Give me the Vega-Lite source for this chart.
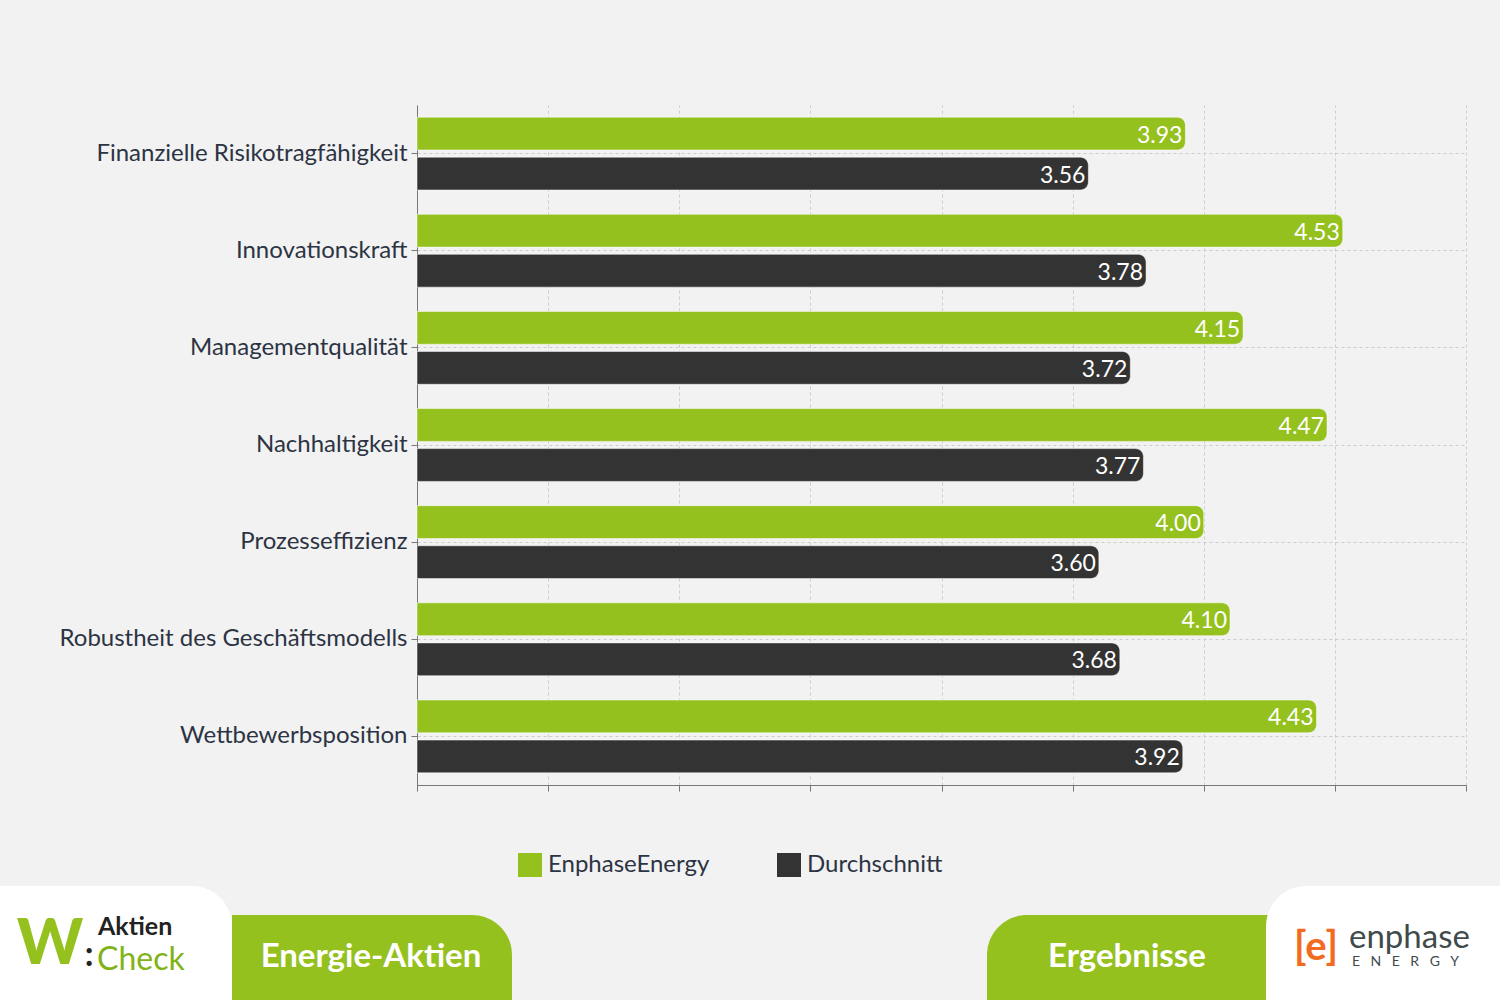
{
  "$schema": "https://vega.github.io/schema/vega-lite/v6.json",
  "background": "#f2f2f2",
  "padding": {"top": 105, "left": 0, "right": 0, "bottom": 0},
  "spacing": 9,
  "align": "none",
  "resolve": {"scale": {"x": "independent", "y": "independent", "color": "independent"}},
  "config": {"view": {"stroke": null}, "font": "Lato"},
  "datasets": {
    "balken": [
      {"kriterium": "Finanzielle Risikotragfähigkeit", "serie": "EnphaseEnergy", "wert": 3.93},
      {"kriterium": "Finanzielle Risikotragfähigkeit", "serie": "Durchschnitt", "wert": 3.56},
      {"kriterium": "Innovationskraft", "serie": "EnphaseEnergy", "wert": 4.53},
      {"kriterium": "Innovationskraft", "serie": "Durchschnitt", "wert": 3.78},
      {"kriterium": "Managementqualität", "serie": "EnphaseEnergy", "wert": 4.15},
      {"kriterium": "Managementqualität", "serie": "Durchschnitt", "wert": 3.72},
      {"kriterium": "Nachhaltigkeit", "serie": "EnphaseEnergy", "wert": 4.47},
      {"kriterium": "Nachhaltigkeit", "serie": "Durchschnitt", "wert": 3.77},
      {"kriterium": "Prozesseffizienz", "serie": "EnphaseEnergy", "wert": 4.00},
      {"kriterium": "Prozesseffizienz", "serie": "Durchschnitt", "wert": 3.60},
      {"kriterium": "Robustheit des Geschäftsmodells", "serie": "EnphaseEnergy", "wert": 4.10},
      {"kriterium": "Robustheit des Geschäftsmodells", "serie": "Durchschnitt", "wert": 3.68},
      {"kriterium": "Wettbewerbsposition", "serie": "EnphaseEnergy", "wert": 4.43},
      {"kriterium": "Wettbewerbsposition", "serie": "Durchschnitt", "wert": 3.92}
    ],
    "flaechen": [
      {"teil": "logo_links", "seite": "links", "art": "weiss", "x0": 0, "x1": 232, "oben": 114},
      {"teil": "tab_links", "seite": "links", "art": "gruen", "x0": 232, "x1": 512, "oben": 85},
      {"teil": "tab_rechts", "seite": "rechts", "art": "gruen", "x0": 987, "x1": 1290, "oben": 85},
      {"teil": "logo_rechts", "seite": "rechts", "art": "weiss", "x0": 1266, "x1": 1500, "oben": 114}
    ],
    "texte": [
      {"teil": "tab", "text": "Energie-Aktien", "x": 371, "y": 43},
      {"teil": "tab", "text": "Ergebnisse", "x": 1127, "y": 43},
      {"teil": "w", "text": "W", "x": 50, "y": 55},
      {"teil": "punkt", "text": ":", "x": 89, "y": 44},
      {"teil": "aktien", "text": "Aktien", "x": 98, "y": 73},
      {"teil": "check", "text": "Check", "x": 97, "y": 40},
      {"teil": "klammer", "text": "[e]", "x": 1316, "y": 52},
      {"teil": "enphase", "text": "enphase", "x": 1349, "y": 62},
      {"teil": "energy", "text": "E\u2003N\u2003E\u2003R\u2003G\u2003Y", "x": 1352, "y": 38}
    ]
  },
  "vconcat": [
    {
      "width": 1049,
      "height": 680,
      "data": {"name": "balken"},
      "encoding": {
        "y": {
          "field": "kriterium",
          "type": "nominal",
          "sort": ["Finanzielle Risikotragfähigkeit", "Innovationskraft", "Managementqualität", "Nachhaltigkeit", "Prozesseffizienz", "Robustheit des Geschäftsmodells", "Wettbewerbsposition"],
          "scale": {"paddingInner": 0.25, "paddingOuter": 0.125},
          "axis": {
            "title": null,
            "labelFontSize": 24,
            "labelColor": "#2c3444",
            "labelPadding": 4,
            "labelLimit": 400,
            "tickSize": 6,
            "tickColor": "#777777",
            "domainColor": "#777777",
            "grid": true,
            "gridColor": "#cccccc",
            "gridDash": [3, 3],
            "bandPosition": 0.5,
            "minExtent": 417,
            "maxExtent": 417
          }
        },
        "yOffset": {
          "field": "serie",
          "type": "nominal",
          "sort": ["EnphaseEnergy", "Durchschnitt"],
          "scale": {"paddingInner": 0.18}
        }
      },
      "layer": [
        {
          "mark": {"type": "bar", "cornerRadiusTopRight": 8, "cornerRadiusBottomRight": 8, "stroke": "#ffffff", "strokeWidth": 1, "strokeOpacity": 0.5},
          "encoding": {
            "x": {
              "field": "wert",
              "type": "quantitative",
              "scale": {"domain": [1, 5], "zero": false, "nice": false},
              "axis": {
                "title": null,
                "labels": false,
                "values": [1, 1.5, 2, 2.5, 3, 3.5, 4, 4.5, 5],
                "tickSize": 6,
                "tickColor": "#777777",
                "domainColor": "#777777",
                "grid": true,
                "gridColor": "#cccccc",
                "gridDash": [3, 3]
              }
            },
            "x2": {"datum": 1},
            "color": {
              "field": "serie",
              "type": "nominal",
              "scale": {"domain": ["EnphaseEnergy", "Durchschnitt"], "range": ["#95c11f", "#333333"]},
              "legend": {
                "title": null,
                "orient": "none",
                "direction": "horizontal",
                "legendX": 101,
                "legendY": 748,
                "symbolType": "square",
                "symbolSize": 576,
                "symbolStrokeWidth": 0,
                "symbolOpacity": 1,
                "labelFontSize": 24,
                "labelLimit": 300,
                "labelColor": "#2c3444",
                "labelOffset": 6,
                "columnPadding": 67
              }
            }
          }
        },
        {
          "mark": {"type": "text", "align": "right", "baseline": "middle", "dx": -3, "dy": 2, "color": "#ffffff", "fontSize": 23},
          "encoding": {
            "x": {"field": "wert", "type": "quantitative"},
            "text": {"field": "wert", "type": "quantitative", "format": ".2f"}
          }
        }
      ]
    },
    {
      "width": 1083,
      "height": 114,
      "layer": [
        {
          "data": {"name": "flaechen"},
          "transform": [{"filter": "datum.seite == 'links'"}],
          "mark": {"type": "rect", "cornerRadiusTopRight": 40},
          "encoding": {
            "x": {"field": "x0", "type": "quantitative", "scale": {"domain": [417, 1500], "nice": false, "zero": false}, "axis": null},
            "x2": {"field": "x1"},
            "y": {"field": "oben", "type": "quantitative", "scale": {"domain": [0, 114], "nice": false}, "axis": null},
            "y2": {"datum": 0},
            "color": {"field": "art", "type": "nominal", "scale": {"domain": ["weiss", "gruen"], "range": ["#ffffff", "#95c11f"]}, "legend": null}
          }
        },
        {
          "data": {"name": "flaechen"},
          "transform": [{"filter": "datum.seite == 'rechts'"}],
          "mark": {"type": "rect", "cornerRadiusTopLeft": 40},
          "encoding": {
            "x": {"field": "x0", "type": "quantitative"},
            "x2": {"field": "x1"},
            "y": {"field": "oben", "type": "quantitative"},
            "y2": {"datum": 0},
            "color": {"field": "art", "type": "nominal", "legend": null}
          }
        },
        {
          "data": {"name": "texte"},
          "transform": [{"filter": "datum.teil == 'tab'"}],
          "mark": {"type": "text", "align": "center", "baseline": "middle", "fontSize": 33, "fontWeight": "bold", "color": "#ffffff"},
          "encoding": {"x": {"field": "x", "type": "quantitative"}, "y": {"field": "y", "type": "quantitative"}, "text": {"field": "text"}}
        },
        {
          "data": {"name": "texte"},
          "transform": [{"filter": "datum.teil == 'w'"}],
          "mark": {"type": "text", "align": "center", "baseline": "middle", "fontSize": 63, "fontWeight": 900, "color": "#95c11f"},
          "encoding": {"x": {"field": "x", "type": "quantitative"}, "y": {"field": "y", "type": "quantitative"}, "text": {"field": "text"}}
        },
        {
          "data": {"name": "texte"},
          "transform": [{"filter": "datum.teil == 'punkt'"}],
          "mark": {"type": "text", "align": "center", "baseline": "middle", "fontSize": 34, "fontWeight": "bold", "color": "#222222"},
          "encoding": {"x": {"field": "x", "type": "quantitative"}, "y": {"field": "y", "type": "quantitative"}, "text": {"field": "text"}}
        },
        {
          "data": {"name": "texte"},
          "transform": [{"filter": "datum.teil == 'aktien'"}],
          "mark": {"type": "text", "align": "left", "baseline": "middle", "fontSize": 25, "fontWeight": "bold", "color": "#222222"},
          "encoding": {"x": {"field": "x", "type": "quantitative"}, "y": {"field": "y", "type": "quantitative"}, "text": {"field": "text"}}
        },
        {
          "data": {"name": "texte"},
          "transform": [{"filter": "datum.teil == 'check'"}],
          "mark": {"type": "text", "align": "left", "baseline": "middle", "fontSize": 32, "color": "#7fb317"},
          "encoding": {"x": {"field": "x", "type": "quantitative"}, "y": {"field": "y", "type": "quantitative"}, "text": {"field": "text"}}
        },
        {
          "data": {"name": "texte"},
          "transform": [{"filter": "datum.teil == 'klammer'"}],
          "mark": {"type": "text", "align": "center", "baseline": "middle", "fontSize": 40, "fontWeight": "bold", "color": "#f26b21"},
          "encoding": {"x": {"field": "x", "type": "quantitative"}, "y": {"field": "y", "type": "quantitative"}, "text": {"field": "text"}}
        },
        {
          "data": {"name": "texte"},
          "transform": [{"filter": "datum.teil == 'enphase'"}],
          "mark": {"type": "text", "align": "left", "baseline": "middle", "fontSize": 33, "color": "#3f4b4b"},
          "encoding": {"x": {"field": "x", "type": "quantitative"}, "y": {"field": "y", "type": "quantitative"}, "text": {"field": "text"}}
        },
        {
          "data": {"name": "texte"},
          "transform": [{"filter": "datum.teil == 'energy'"}],
          "mark": {"type": "text", "align": "left", "baseline": "middle", "fontSize": 14, "color": "#3f4b4b"},
          "encoding": {"x": {"field": "x", "type": "quantitative"}, "y": {"field": "y", "type": "quantitative"}, "text": {"field": "text"}}
        }
      ]
    }
  ]
}
